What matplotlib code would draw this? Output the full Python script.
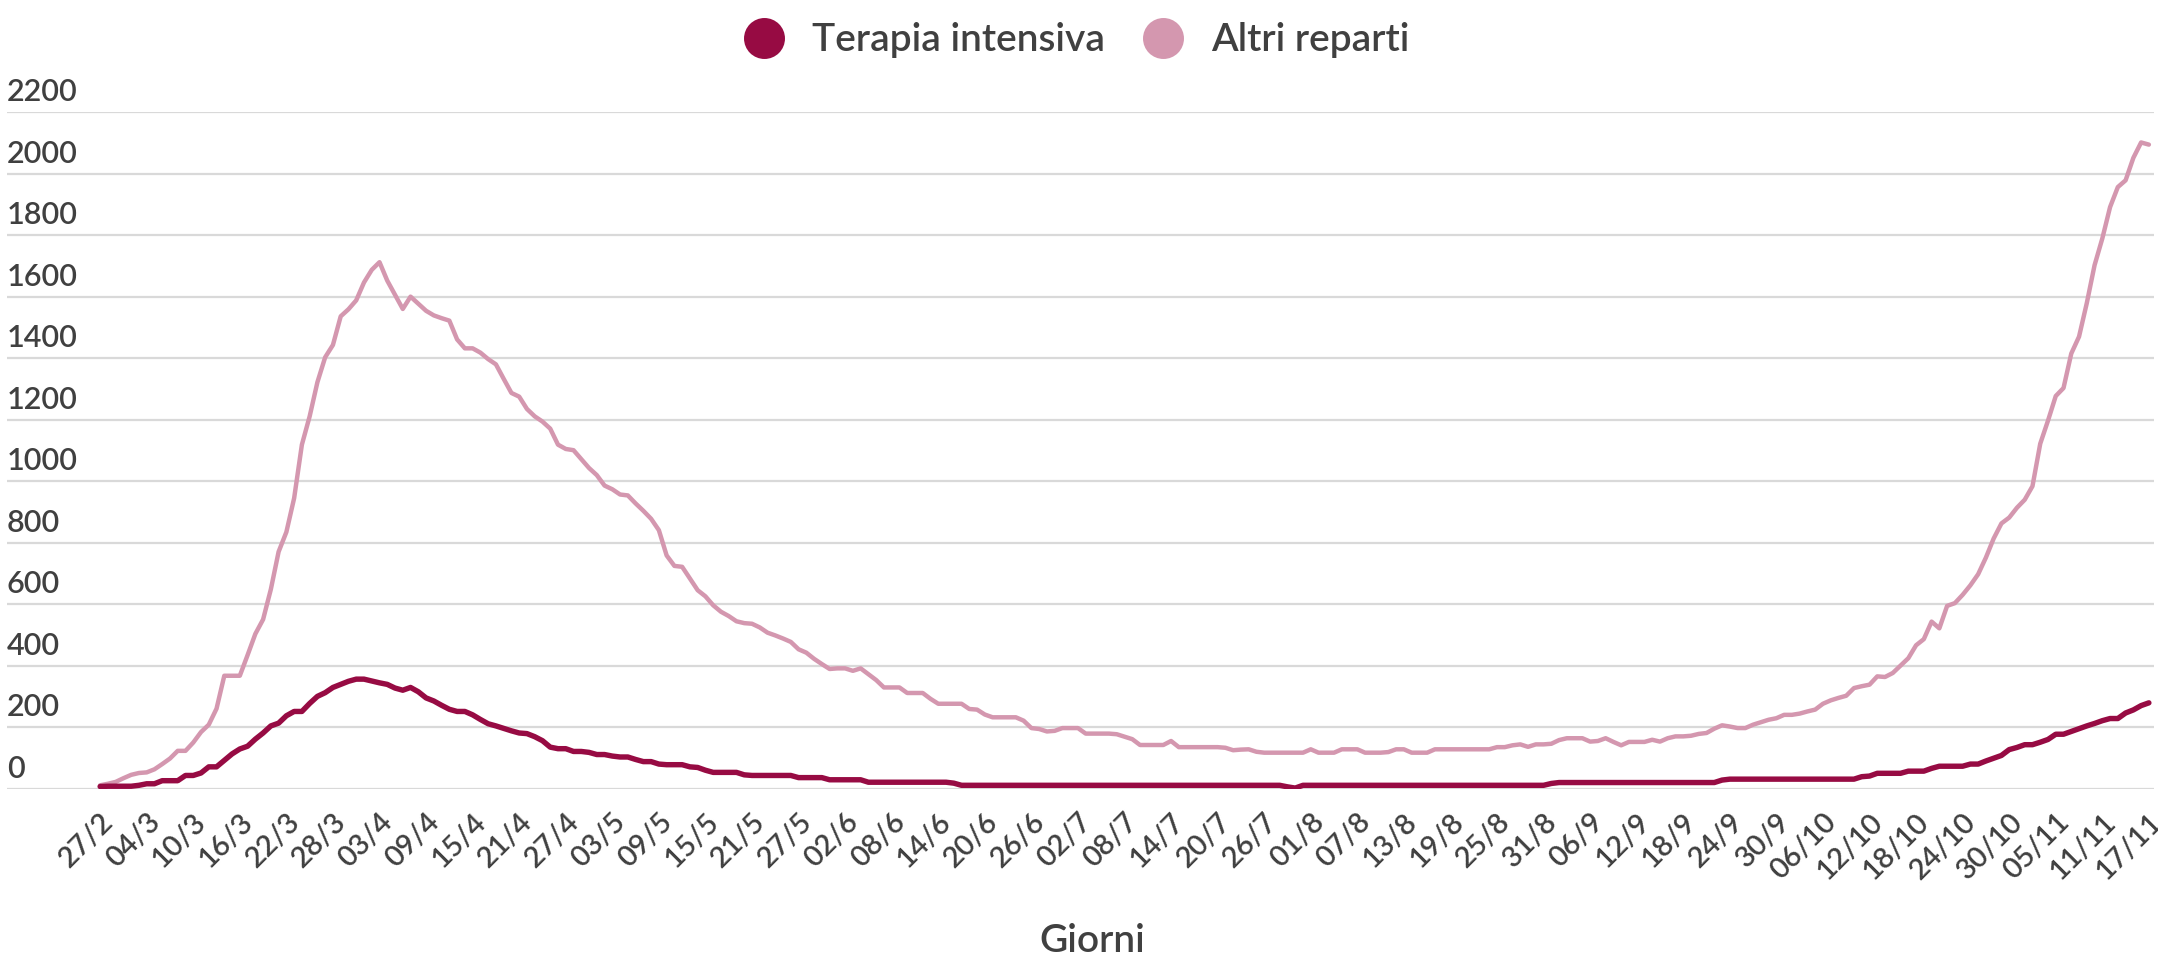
import numpy as np
import matplotlib
matplotlib.use("Agg")
import matplotlib.pyplot as plt
from matplotlib import transforms

plt.rcParams['font.family'] = ['Lato', 'DejaVu Sans']

# ---------------- data ----------------
series_names = ["Terapia intensiva", "Altri reparti"]

terapia_intensiva = [
    8, 9, 9, 9, 9, 12, 17, 17, 27, 27,
    27, 44, 44, 52, 72, 72, 93, 114, 130, 139,
    162, 182, 205, 214, 238, 252, 252, 278, 301, 313,
    330, 340, 350, 357, 357, 351, 345, 340, 328, 321,
    330, 316, 296, 286, 272, 259, 252, 252, 241, 226,
    212, 205, 197, 189, 182, 180, 170, 157, 136, 131,
    131, 122, 122, 119, 112, 112, 107, 104, 104, 96,
    89, 89, 81, 79, 79, 79, 72, 70, 61, 54,
    54, 54, 54, 46, 44, 44, 44, 44, 44, 44,
    37, 37, 37, 37, 30, 30, 30, 30, 30, 22,
    22, 22, 22, 22, 22, 22, 22, 22, 22, 22,
    19, 12, 12, 12, 12, 12, 12, 12, 12, 12,
    12, 12, 12, 12, 12, 12, 12, 12, 12, 12,
    12, 12, 12, 12, 12, 12, 12, 12, 12, 12,
    12, 12, 12, 12, 12, 12, 12, 12, 12, 12,
    12, 12, 12, 7, 3, 12, 12, 12, 12, 12,
    12, 12, 12, 12, 12, 12, 12, 12, 12, 12,
    12, 12, 12, 12, 12, 12, 12, 12, 12, 12,
    12, 12, 12, 12, 12, 12, 12, 18, 21, 21,
    21, 21, 21, 21, 21, 21, 21, 21, 21, 21,
    21, 21, 21, 21, 21, 21, 21, 21, 21, 29,
    32, 32, 32, 32, 32, 32, 32, 32, 32, 32,
    32, 32, 32, 32, 32, 32, 32, 40, 42, 51,
    51, 51, 51, 58, 58, 58, 67, 74, 74, 74,
    74, 81, 81, 91, 100, 109, 128, 135, 144, 144,
    152, 161, 178, 178, 187, 196, 205, 213, 222, 229,
    229, 247, 257, 271, 280,
]

altri_reparti = [
    12, 17, 23, 35, 46, 52, 54, 64, 81, 99,
    124, 124, 151, 185, 209, 261, 368, 368, 368, 435,
    504, 551, 649, 771, 835, 945, 1119, 1211, 1322, 1403,
    1443, 1536, 1559, 1588, 1646, 1687, 1712, 1652, 1606, 1560,
    1600, 1577, 1554, 1539, 1530, 1522, 1461, 1432, 1432, 1418,
    1397, 1380, 1333, 1287, 1275, 1235, 1211, 1194, 1171, 1119,
    1105, 1101, 1072, 1043, 1020, 986, 974, 957, 954, 928,
    904, 878, 841, 759, 725, 722, 684, 646, 626, 597,
    576, 562, 545, 539, 537, 525, 508, 499, 489, 478,
    454, 443, 423, 406, 390, 392, 392, 384, 392, 373,
    354, 330, 330, 330, 312, 312, 312, 293, 277, 277,
    277, 277, 260, 258, 242, 233, 233, 233, 233, 222,
    198, 195, 187, 189, 198, 198, 198, 180, 180, 180,
    180, 178, 170, 162, 143, 143, 143, 143, 156, 136,
    136, 136, 136, 136, 136, 134, 126, 128, 129, 121,
    118, 118, 118, 118, 118, 118, 129, 118, 118, 118,
    129, 129, 129, 118, 118, 118, 120, 129, 129, 118,
    118, 118, 129, 129, 129, 129, 129, 129, 129, 129,
    136, 136, 142, 145, 137, 145, 145, 147, 159, 165,
    165, 165, 154, 156, 165, 153, 142, 153, 153, 153,
    160, 154, 165, 171, 171, 173, 179, 182, 196, 207,
    203, 198, 198, 209, 217, 225, 230, 241, 241, 245,
    252, 258, 277, 288, 296, 303, 328, 334, 339, 366,
    364, 377, 401, 425, 467, 487, 544, 522, 595, 604,
    631, 662, 698, 752, 814, 863, 882, 914, 940, 984,
    1122, 1197, 1277, 1303, 1415, 1470, 1579, 1702, 1789, 1891,
    1956, 1978, 2051, 2101, 2094,
]

tick_labels = [
    "27/2", "04/3", "10/3", "16/3", "22/3", "28/3", "03/4", "09/4", "15/4",
    "21/4", "27/4", "03/5", "09/5", "15/5", "21/5", "27/5", "02/6", "08/6",
    "14/6", "20/6", "26/6", "02/7", "08/7", "14/7", "20/7", "26/7", "01/8",
    "07/8", "13/8", "19/8", "25/8", "31/8", "06/9", "12/9", "18/9", "24/9",
    "30/9", "06/10", "12/10", "18/10", "24/10", "30/10", "05/11", "11/11",
    "17/11",
]
tick_step = 6
y_ticks = [0, 200, 400, 600, 800, 1000, 1200, 1400, 1600, 1800, 2000, 2200]
x_title = "Giorni"

# ---------------- style ----------------
col_ti = "#970b43"
col_ar = "#d497af"
txt_col = "#404040"
grid_col = "#d9d9d9"
fw = "semibold"

W, H = 2158, 958
fig = plt.figure(figsize=(W / 100, H / 100), dpi=100)
fig.patch.set_facecolor("white")

left_px, right_px, top_px, bottom_px = 7, 2154, 112, 789
ax = fig.add_axes([left_px / W, 1 - bottom_px / H,
                   (right_px - left_px) / W, (bottom_px - top_px) / H])

x = np.arange(len(terapia_intensiva))
ax.plot(x, altri_reparti, color=col_ar, lw=3.2, solid_joinstyle="round",
        solid_capstyle="round", zorder=3)
ax.plot(x, terapia_intensiva, color=col_ti, lw=3.9, solid_joinstyle="round",
        solid_capstyle="round", zorder=4)

ax.set_ylim(0, 2200)
ax.set_xlim(-12, len(x) - 1 + 0.66)

for s in ax.spines.values():
    s.set_visible(False)
ax.set_yticks(y_ticks)
ax.yaxis.grid(True, color=grid_col, lw=1.6)
ax.set_axisbelow(True)
ax.tick_params(axis="y", length=0, labelleft=False)

# y labels above gridlines, left aligned
ytrans = transforms.offset_copy(ax.get_yaxis_transform(), fig=fig, x=0, y=11, units="dots")
for v in y_ticks:
    ax.text(0, v, str(v), transform=ytrans, ha="left", va="baseline",
            fontsize=22, color=txt_col, fontweight=fw, clip_on=False)

ticks = np.arange(0, len(x), tick_step)
ax.set_xticks(ticks)
ax.set_xticklabels(tick_labels, rotation=45, ha="right", rotation_mode="anchor",
                   fontsize=21, color=txt_col, fontweight=fw)
ax.tick_params(axis="x", length=0, pad=14)

fig.text(1092 / W, 1 - 941 / H, x_title, ha="center", va="center",
         fontsize=28, color=txt_col, fontweight=fw)

# legend
lax = fig.add_axes([0, 0, 1, 1], facecolor="none")
lax.set_xlim(0, W)
lax.set_ylim(H, 0)
lax.axis("off")
leg_items = [(764, col_ti, series_names[0]), (1163, col_ar, series_names[1])]
for cx, c, name in leg_items:
    lax.plot([cx], [38], marker="o", ms=29.5, color=c, mec="none")
    lax.text(cx + 48, 51, name, ha="left", va="baseline", fontsize=28,
             color=txt_col, fontweight=fw)

fig.savefig("out.png", dpi=100)
